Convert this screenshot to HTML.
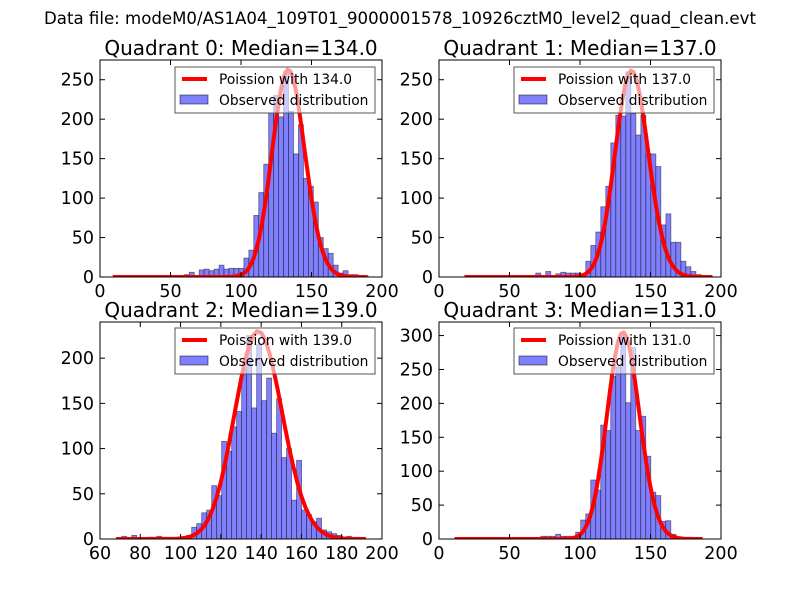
<!DOCTYPE html>
<html><head><meta charset="utf-8"><style>
body{margin:0;background:#fff;}
svg{display:block;font-family:"DejaVu Sans","Liberation Sans",sans-serif;}
</style></head><body>
<svg id="fig" width="800" height="600" viewBox="0 0 800 600" xmlns="http://www.w3.org/2000/svg">
<rect width="800" height="600" fill="#fff"/>
<text x="400" y="24" font-size="16.6" text-anchor="middle">Data file: modeM0/AS1A04_109T01_9000001578_10926cztM0_level2_quad_clean.evt</text>
</svg>
<script>
// ---- data ----
const quadrantNames = ["Quadrant 0: Median=134.0","Quadrant 1: Median=137.0","Quadrant 2: Median=139.0","Quadrant 3: Median=131.0"];
const medians = [134, 137, 139, 131];
const binStarts = [59.8, 61.5, 70.8, 72.1];
const binWidths = [3.52, 3.55, 2.48, 3.55];
const countsQ0 = [3,6,0,9,10,8,10,15,10,11,11,11,24,34,78,107,143,208,230,203,260,210,156,193,125,115,95,50,36,30,15,5,8,3,3,0,2];
const countsQ1 = [2,0,5,0,7,0,4,6,5,5,5,3,20,40,57,89,115,170,205,204,260,207,180,205,156,156,140,66,80,44,44,20,13,7,3,2];
const countsQ2 = [3,0,4,0,0,2,2,3,2,0,0,0,1,4,13,17,29,32,59,48,108,97,124,141,188,225,145,215,153,178,117,155,90,100,43,87,32,27,19,23,10,8,6,4,0,3];
const countsQ3 = [4,4,4,7,4,4,3,10,28,37,87,72,168,160,240,254,305,201,282,160,181,122,69,64,26,27,7,3];
const poissonScales = [7630, 7680, 6797, 8750];
const curveRanges = [[9,190],[18,195],[68,193],[11,187]];
const xLimits = [[0,200],[0,200],[60,200],[0,200]];
const yLimits = [275, 275, 240, 320];
const xTickLabels = [[0,50,100,150,200],[0,50,100,150,200],[60,80,100,120,140,160,180,200],[0,50,100,150,200]];
const yTickLabels = [[0,50,100,150,200,250],[0,50,100,150,200,250],[0,50,100,150,200],[0,50,100,150,200,250,300]];
const allCounts = [countsQ0, countsQ1, countsQ2, countsQ3];
const boxes = [[100,60,282,217],[439,60,282,217],[100,322,282,217],[439,322,282,217]];

const NS = "http://www.w3.org/2000/svg";
const fig = document.getElementById("fig");
function mk(tag, attrs, parent){const e=document.createElementNS(NS,tag);for(const k in attrs)e.setAttribute(k,attrs[k]);(parent||fig).appendChild(e);return e;}
function logFact(k){let s=0;for(let i=2;i<=k;i++)s+=Math.log(i);return s;}
function pmf(k,m){return Math.exp(k*Math.log(m)-m-logFact(k));}

for(let q=0;q<4;q++){
  const [bx,by,bw,bh]=boxes[q];
  const [x0,x1]=xLimits[q];
  const ymax=yLimits[q];
  const sx=v=>bx+(v-x0)/(x1-x0)*bw;
  const sy=v=>by+bh-v/ymax*bh;
  const g=mk("g",{});
  
  
  const clipId='clip'+q;
  const cp=mk("clipPath",{id:clipId},g);
  mk("rect",{x:bx,y:by,width:bw,height:bh},cp);
  const plot=mk("g",{"clip-path":"url(#"+clipId+")"},g);
  const counts=allCounts[q];
  for(let i=0;i<counts.length;i++){
    if(counts[i]<=0) continue;
    const l=binStarts[q]+i*binWidths[q];
    const r=mk("rect",{x:sx(l),y:sy(counts[i]),width:sx(l+binWidths[q])-sx(l),height:sy(0)-sy(counts[i]),fill:"rgb(128,128,255)",stroke:"rgba(0,0,0,0.5)","stroke-width":"0.8"},plot);
    
    
  }
  const m=medians[q];
  const [c0,c1]=curveRanges[q];
  const pts=[];
  for(let k=c0;k<=c1;k+=2){pts.push(sx(k).toFixed(1)+","+sy(pmf(k,m)*poissonScales[q]).toFixed(1));}
  const pl=mk("polyline",{points:pts.join(" "),fill:"none",stroke:"#ff0000","stroke-width":"4","stroke-linejoin":"round"},plot);
  
  
  const fr=mk("rect",{x:bx,y:by,width:bw,height:bh,fill:"none",stroke:"#000","stroke-width":"1"},g);
  
  
  xTickLabels[q].forEach(v=>{
    const x=sx(v);
    mk("line",{x1:x,y1:by+bh,x2:x,y2:by+bh-5,stroke:"#000"},g);
    mk("line",{x1:x,y1:by,x2:x,y2:by+5,stroke:"#000"},g);
    const t=mk("text",{x:x,y:by+bh+20,"font-size":"17.5","text-anchor":"middle"},g);
    t.textContent=v;
    
    
  });
  yTickLabels[q].forEach(v=>{
    const y=sy(v);
    mk("line",{x1:bx,y1:y,x2:bx+5,y2:y,stroke:"#000"},g);
    mk("line",{x1:bx+bw,y1:y,x2:bx+bw-5,y2:y,stroke:"#000"},g);
    const t=mk("text",{x:bx-6,y:y+6,"font-size":"17.5","text-anchor":"end"},g);
    t.textContent=v;
    
    
  });
  const tt=mk("text",{x:bx+bw/2,y:by-5,"font-size":"20","text-anchor":"middle"},g);
  tt.textContent=quadrantNames[q];
  
  
  const lx=bx+bw-207, ly=by+7+(q>=2?-1:0);
  const lg=mk("g",{},g);
  
  
  mk("rect",{x:lx,y:ly,width:200,height:46,fill:"rgba(255,255,255,0.6)",stroke:"#555","stroke-width":"1"},lg);
  mk("line",{x1:lx+7,y1:ly+12,x2:lx+32,y2:ly+12,stroke:"#ff0000","stroke-width":"4"},lg);
  mk("rect",{x:lx+5,y:ly+28,width:28,height:9,fill:"rgb(128,128,255)",stroke:"rgba(0,0,0,0.5)"},lg);
  const t1=mk("text",{x:lx+44,y:ly+17,"font-size":"13.8"},lg);
  t1.textContent="Poission with "+m.toFixed(1);
  
  
  const t2=mk("text",{x:lx+44,y:ly+38,"font-size":"13.8"},lg);
  t2.textContent="Observed distribution";
  
  
}
</script>
</body></html>
